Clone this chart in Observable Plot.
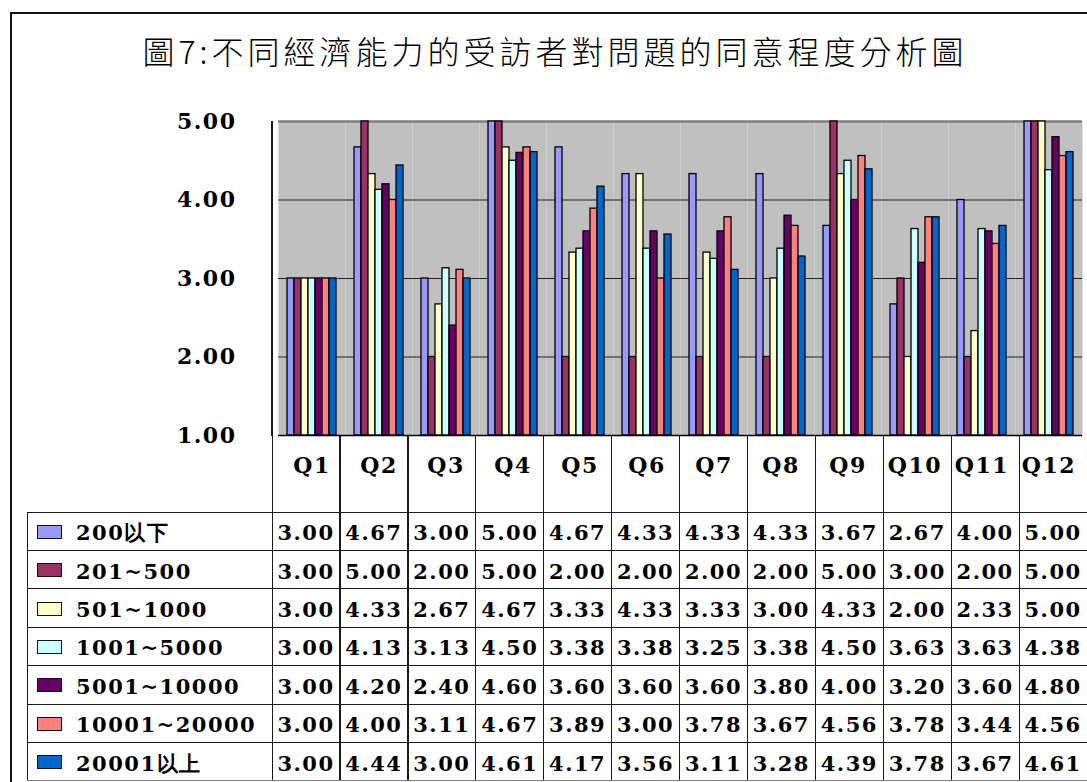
<!DOCTYPE html>
<html><head><meta charset="utf-8">
<script src="https://cdn.jsdelivr.net/npm/d3@7"></script>
<script src="https://cdn.jsdelivr.net/npm/@observablehq/plot@0.6"></script>
<style>
body{margin:0;background:#fff;}
#wrap{position:relative;width:1087px;height:782px;overflow:hidden;background:#fff;}
#border{position:absolute;left:10px;top:12px;width:1200px;height:900px;border:2px solid #111;box-sizing:border-box;}
#title{position:absolute;left:0;width:1110px;top:27px;text-align:center;font-family:"Noto Sans CJK TC";font-weight:300;font-size:32px;letter-spacing:4px;color:#000;}
.ln{position:absolute;background:#1a1a1a;}
.cell{position:absolute;font-family:"DejaVu Serif";font-weight:bold;font-size:21px;letter-spacing:1.5px;color:#000;white-space:nowrap;line-height:1;}
.sw{position:absolute;border:1.5px solid #111;box-sizing:border-box;}
#chart{position:absolute;left:0;top:0;}
</style></head><body><div id="wrap"><div id="border"></div><div id="title">圖7:不同經濟能力的受訪者對問題的同意程度分析圖</div></div>
<script>
const questions = ["Q1","Q2","Q3","Q4","Q5","Q6","Q7","Q8","Q9","Q10","Q11","Q12"];
const groups = ["200以下","201~500","501~1000","1001~5000","5001~10000","10001~20000","20001以上"];
const colors = ["#9999FF","#993366","#FFFFCC","#CCFFFF","#660066","#FF8080","#0066CC"];
const v200   = [3.00,4.67,3.00,5.00,4.67,4.33,4.33,4.33,3.67,2.67,4.00,5.00];
const v201   = [3.00,5.00,2.00,5.00,2.00,2.00,2.00,2.00,5.00,3.00,2.00,5.00];
const v501   = [3.00,4.33,2.67,4.67,3.33,4.33,3.33,3.00,4.33,2.00,2.33,5.00];
const v1001  = [3.00,4.13,3.13,4.50,3.38,3.38,3.25,3.38,4.50,3.63,3.63,4.38];
const v5001  = [3.00,4.20,2.40,4.60,3.60,3.60,3.60,3.80,4.00,3.20,3.60,4.80];
const v10001 = [3.00,4.00,3.11,4.67,3.89,3.00,3.78,3.67,4.56,3.78,3.44,4.56];
const v20001 = [3.00,4.44,3.00,4.61,4.17,3.56,3.11,3.28,4.39,3.78,3.67,4.61];
const yTicks = [1,2,3,4,5];

const series = [v200, v201, v501, v1001, v5001, v10001, v20001];
const data = [];
series.forEach((vals, i) => vals.forEach((v, j) => data.push({q: questions[j], g: groups[i], v})));

const W = 1087, ML = 272, MT = 121, PB = 435, H = 512;
const chart = Plot.plot({
  width: W, height: H,
  marginLeft: ML, marginRight: 0, marginTop: MT, marginBottom: H - PB,
  style: {fontFamily: "'DejaVu Serif'", fontSize: "21px", fontWeight: "bold", background: "transparent", overflow: "visible", color: "#000", letterSpacing: "1.5px"},
  fx: {domain: questions, padding: 0, label: null},
  x: {domain: groups, paddingInner: 0, paddingOuter: 0.8, axis: null},
  y: {domain: [1, 5], axis: null},
  color: {domain: groups, range: colors},
  marks: [
    Plot.frame({fill: "#c0c0c0", stroke: null}),
    Plot.ruleY([2, 3, 4], {stroke: "#222", strokeWidth: 1.2}),
    Plot.ruleY([5], {stroke: "#808080", strokeWidth: 2.5}),
    Plot.barY(data, {fx: "q", x: "g", y1: 1, y2: "v", fill: "g", stroke: "#000", strokeWidth: 1.3}),
    Plot.ruleY([1], {stroke: "#000", strokeWidth: 1.5}),
    Plot.axisY({ticks: yTicks, tickFormat: d => d.toFixed(2), tickSize: 0, tickPadding: 42, anchor: "left", label: null, fontSize: 22}),
    Plot.axisFx({anchor: "bottom", tickSize: 0, tickPadding: 22, label: null, fontSize: 22})
  ]
});
chart.id = "chart";
const wrap = document.getElementById("wrap");

// data table grid (below the plot)
const colW = (W - ML) / questions.length;
const rowTop = 512, rowH = 38.4, tableLeft = 27;
function line(x, y, w, h, color) {
  const d = document.createElement("div");
  d.className = "ln";
  d.style.left = x + "px"; d.style.top = y + "px"; d.style.width = w + "px"; d.style.height = h + "px";
  if (color) d.style.background = color;
  wrap.appendChild(d);
}
// left axis line of the plot area
line(ML - 1, MT, 1.5, PB - MT + 1);
for (let k = 0; k <= questions.length; k++) {
  line(ML + k * colW - 0.5, PB, 1.2, rowTop + rowH * groups.length - PB);
}
line(tableLeft, rowTop, 1.2, rowH * groups.length);
for (let r = 0; r <= groups.length; r++) {
  line(tableLeft, rowTop + r * rowH - 0.5, W - tableLeft, 1.2, r === groups.length ? "#808080" : null);
}
groups.forEach((g, i) => {
  const top = rowTop + i * rowH;
  const sw = document.createElement("div");
  sw.className = "sw";
  sw.style.left = "37px"; sw.style.top = (top + rowH / 2 - 6.5) + "px";
  sw.style.width = "25px"; sw.style.height = "14px";
  sw.style.background = colors[i];
  wrap.appendChild(sw);
  const t = document.createElement("div");
  t.className = "cell";
  t.textContent = g;
  t.style.left = "76px"; t.style.top = (top + rowH / 2 - 9) + "px";
  wrap.appendChild(t);
  series[i].forEach((v, j) => {
    const c = document.createElement("div");
    c.className = "cell";
    c.textContent = v.toFixed(2);
    c.style.left = (ML + j * colW) + "px"; c.style.width = colW + "px"; c.style.textAlign = "center";
    c.style.top = (top + rowH / 2 - 9) + "px";
    wrap.appendChild(c);
  });
});
wrap.appendChild(chart);
</script></body></html>
